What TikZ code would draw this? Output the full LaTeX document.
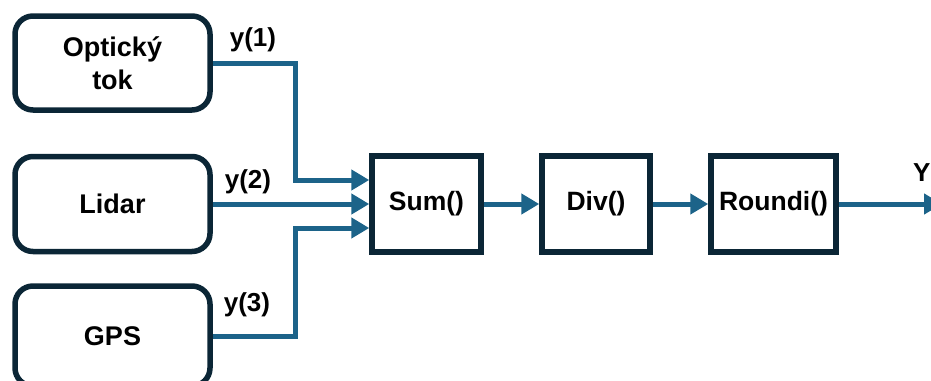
\documentclass[tikz,border=0pt]{standalone}
\usepackage{fontspec}
\setmainfont{Liberation Sans}
\usepackage{tikz}
\usetikzlibrary{arrows.meta, positioning, calc}
\definecolor{inkdeep}{HTML}{0B2636}
\definecolor{flowblue}{HTML}{1C6389}

\begin{document}
\begin{tikzpicture}[x=1pt,y=-1pt]
  \tikzstyle{src}=[draw=inkdeep, line width=5.5pt, rounded corners=18pt,
    minimum width=195pt, minimum height=95pt, align=center,
    font=\fontsize{27}{33}\selectfont\bfseries]
  \tikzstyle{fn}=[draw=inkdeep, line width=5.5pt,
    minimum height=96pt, align=center, inner sep=0pt,
    font=\fontsize{26.5}{33}\selectfont\bfseries]
  \tikzstyle{flow}=[-{Triangle[length=18pt,width=20pt]}, line width=5pt, flowblue]
  \tikzstyle{lbl}=[font=\fontsize{26}{30}\selectfont\bfseries, inner sep=0pt]

  \useasboundingbox (0,0) rectangle (931,380);

  \node[src, minimum height=94pt] (opt) at (112.5,63) {Optický\\tok};
  \node[src] (lid) at (112.5,204) {Lidar};
  \node[src, minimum height=100pt] (gps) at (112.5,336) {GPS};

  \node[fn, minimum width=109pt] (sum) at (426.5,204) {Sum()};
  \node[fn, minimum width=108pt] (div) at (596,204)   {Div()};
  \node[fn, minimum width=125pt] (rnd) at (773.5,204) {Roundi()};
  \coordinate (out) at (942,204);

  \draw[flow] (opt.east) -- ++(83,0) |- ([yshift=24pt]sum.west);
  \draw[flow] (lid.east) -- (sum.west);
  \draw[flow] (gps.east) -- ++(83,0) |- ([yshift=-24pt]sum.west);
  \draw[flow] (sum)--(div);
  \draw[flow] (div)--(rnd);
  \draw[flow] (rnd)--(out);

  \node[lbl] (y1) at (253,40)  {y(1)};
  \node[lbl] (y2) at (248,182) {y(2)};
  \node[lbl] (y3) at (247,305) {y(3)};
  \node[lbl, anchor=west] (yo) at (913,173) {Y};
\end{tikzpicture}
\end{document}
